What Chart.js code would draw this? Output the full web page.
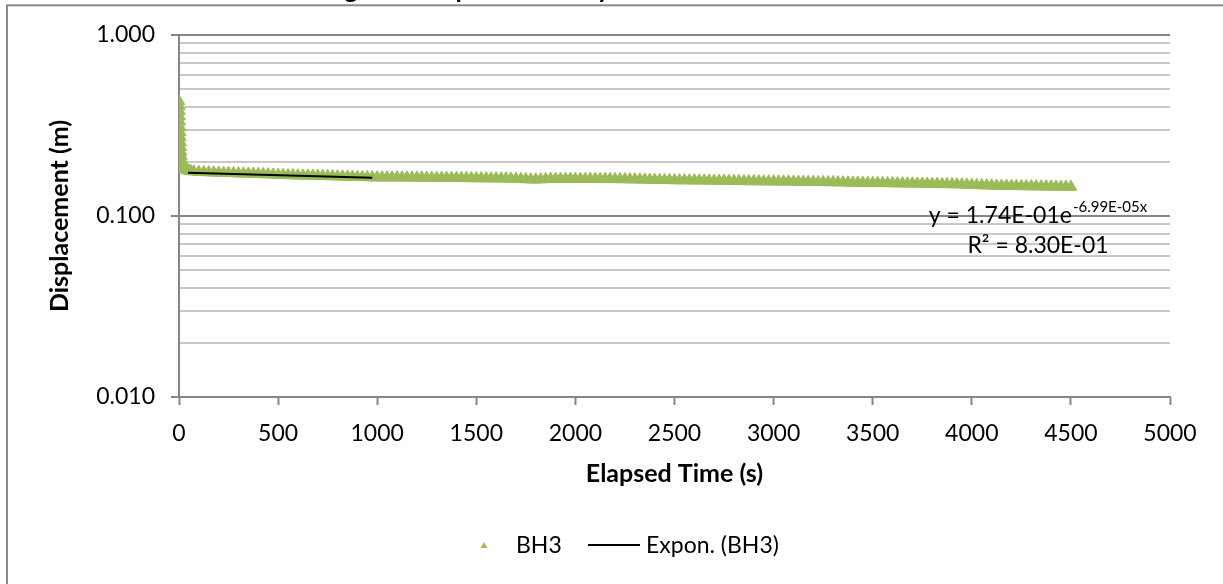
<!DOCTYPE html>
<html>
<head>
<meta charset="utf-8">
<title>BH3 displacement</title>
<script src="https://cdn.jsdelivr.net/npm/chart.js@4.4.1/dist/chart.umd.min.js"></script>
<style>
  html, body { margin: 0; padding: 0; background: #ffffff; }
  canvas { display: block; }
</style>
</head>
<body>
<canvas id="chart" width="1223" height="584"></canvas>
<script>
// BH3 logger record: elapsed time (s) and displacement (m)
const elapsedTime = [
  0, 1, 2, 3, 4, 5, 6, 7, 8, 9, 10, 12, 14, 16, 18, 20, 25, 30, 40, 50, 60, 75,
  100, 125, 150, 175, 200, 225, 250, 275, 300, 325, 350, 375, 400, 425, 450, 475,
  500, 525, 550, 575, 600, 625, 650, 675, 700, 725, 750, 775, 800, 825, 850, 875,
  900, 925, 950, 975, 1000, 1025, 1050, 1075, 1100, 1125, 1150, 1175, 1200, 1225, 1250, 1275,
  1300, 1325, 1350, 1375, 1400, 1425, 1450, 1475, 1500, 1525, 1550, 1575, 1600, 1625, 1650, 1675,
  1700, 1725, 1750, 1775, 1800, 1825, 1850, 1875, 1900, 1925, 1950, 1975, 2000, 2025, 2050, 2075,
  2100, 2125, 2150, 2175, 2200, 2225, 2250, 2275, 2300, 2325, 2350, 2375, 2400, 2425, 2450, 2475,
  2500, 2525, 2550, 2575, 2600, 2625, 2650, 2675, 2700, 2725, 2750, 2775, 2800, 2825, 2850, 2875,
  2900, 2925, 2950, 2975, 3000, 3025, 3050, 3075, 3100, 3125, 3150, 3175, 3200, 3225, 3250, 3275,
  3300, 3325, 3350, 3375, 3400, 3425, 3450, 3475, 3500, 3525, 3550, 3575, 3600, 3625, 3650, 3675,
  3700, 3725, 3750, 3775, 3800, 3825, 3850, 3875, 3900, 3925, 3950, 3975, 4000, 4025, 4050, 4075,
  4100, 4125, 4150, 4175, 4200, 4225, 4250, 4275, 4300, 4325, 4350, 4375, 4400, 4425, 4450, 4475,
  4500
];
const displacement = [
  0.430, 0.405, 0.380, 0.355, 0.332, 0.310, 0.290, 0.272, 0.255, 0.240, 0.226, 0.214, 0.204, 0.197, 0.192, 0.188, 0.184, 0.181, 0.179, 0.178, 0.177, 0.176,
  0.1750, 0.1746, 0.1741, 0.1738, 0.1733, 0.1729, 0.1727, 0.1722, 0.1718, 0.1715, 0.1712, 0.1710, 0.1706, 0.1702, 0.1697, 0.1692,
  0.1686, 0.1684, 0.1680, 0.1677, 0.1674, 0.1671, 0.1669, 0.1667, 0.1664, 0.1661, 0.1659, 0.1656, 0.1653, 0.1650, 0.1648, 0.1646,
  0.1643, 0.1640, 0.1637, 0.1634, 0.1632, 0.1632, 0.1631, 0.1630, 0.1632, 0.1631, 0.1629, 0.1628, 0.1628, 0.1627, 0.1625, 0.1623,
  0.1622, 0.1621, 0.1622, 0.1620, 0.1622, 0.1619, 0.1617, 0.1616, 0.1616, 0.1615, 0.1613, 0.1612, 0.1612, 0.1610, 0.1609, 0.1607,
  0.1606, 0.1600, 0.1594, 0.1590, 0.1589, 0.1592, 0.1597, 0.1600, 0.1601, 0.1602, 0.1601, 0.1603, 0.1601, 0.1602, 0.1600, 0.1601,
  0.1601, 0.1599, 0.1598, 0.1599, 0.1597, 0.1596, 0.1595, 0.1593, 0.1591, 0.1590, 0.1588, 0.1584, 0.1581, 0.1579, 0.1578, 0.1577,
  0.1575, 0.1574, 0.1573, 0.1572, 0.1571, 0.1570, 0.1569, 0.1568, 0.1567, 0.1565, 0.1564, 0.1562, 0.1561, 0.1559, 0.1557, 0.1556,
  0.1555, 0.1553, 0.1552, 0.1551, 0.1551, 0.1550, 0.1548, 0.1549, 0.1547, 0.1545, 0.1543, 0.1542, 0.1541, 0.1539, 0.1538, 0.1536,
  0.1535, 0.1533, 0.1531, 0.1529, 0.1527, 0.1526, 0.1524, 0.1523, 0.1522, 0.1520, 0.1518, 0.1517, 0.1516, 0.1514, 0.1512, 0.1511,
  0.1510, 0.1508, 0.1506, 0.1505, 0.1503, 0.1501, 0.1499, 0.1498, 0.1497, 0.1495, 0.1492, 0.1488, 0.1484, 0.1480, 0.1477, 0.1475,
  0.1472, 0.1469, 0.1467, 0.1466, 0.1464, 0.1462, 0.1461, 0.1459, 0.1458, 0.1457, 0.1455, 0.1454, 0.1453, 0.1451, 0.1450, 0.1449,
  0.1448
];

// Exponential trendline y = a * e^(b x), fitted over the early part of the record
const trendA = 0.174;
const trendB = -6.99e-5;
const trendRSquared = 0.830;
const trendSpan = [45, 975];

// Axis ticks
const xTickStep = 500;
const yTickValues = [
  0.01, 0.02, 0.03, 0.04, 0.05, 0.06, 0.07, 0.08, 0.09,
  0.1, 0.2, 0.3, 0.4, 0.5, 0.6, 0.7, 0.8, 0.9,
  1
];
const yLabelledTicks = [0.01, 0.1, 1];

const seriesNames = ['BH3', 'Expon. (BH3)'];
const chartTitle = 'Slug Test Displacement by Time';

const FONT = 'Lato';
const GREEN = '#9BBB59';
const AXIS_GREY = '#868686';
const MINOR_GREY = '#c8c8c8';

function isDecade(v) {
  const l = Math.log10(v);
  return Math.abs(l - Math.round(l)) < 1e-9;
}

// Spreadsheet style scientific notation, e.g. 1.74E-01
function sciEq(v) {
  const [m, e] = v.toExponential(2).split('e');
  const n = parseInt(e, 10);
  return m + 'E' + (n < 0 ? '-' : '') + String(Math.abs(n)).padStart(2, '0');
}

// Outer frame, clipped title and white backdrop
const framePlugin = {
  id: 'frame',
  beforeDraw(chart) {
    const ctx = chart.ctx;
    ctx.save();
    ctx.fillStyle = '#ffffff';
    ctx.fillRect(0, 0, chart.width, chart.height);
    ctx.strokeStyle = '#8a8a8a';
    ctx.lineWidth = 2;
    ctx.strokeRect(7, 5.3, 1400, 800);
    ctx.restore();
  },
  afterDraw(chart) {
    const ctx = chart.ctx;
    ctx.save();
    ctx.font = 'bold 26px ' + FONT;
    ctx.fillStyle = '#000000';
    ctx.textBaseline = 'alphabetic';
    const gIdx = chartTitle.indexOf('g');
    const pre = ctx.measureText(chartTitle.slice(0, gIdx)).width;
    const gw = ctx.measureText('g').width;
    ctx.fillText(chartTitle, 351 - pre - gw / 2, -2);
    ctx.restore();
  }
};

// Trendline equation and R² label
const equationPlugin = {
  id: 'equation',
  afterDatasetsDraw(chart) {
    const ctx = chart.ctx;
    const main = 'y = ' + sciEq(trendA) + 'e';
    const sup = sciEq(trendB) + 'x';
    const r2 = 'R² = ' + sciEq(trendRSquared);
    const cx = 1038;
    ctx.save();
    ctx.fillStyle = '#000000';
    ctx.textBaseline = 'alphabetic';
    ctx.font = '23px ' + FONT;
    const wm = ctx.measureText(main).width;
    ctx.font = '15px ' + FONT;
    const ws = ctx.measureText(sup).width;
    const x0 = cx - (wm + ws + 1) / 2;
    ctx.font = '23px ' + FONT;
    ctx.textAlign = 'left';
    ctx.fillText(main, x0, 223);
    ctx.font = '15px ' + FONT;
    ctx.fillText(sup, x0 + wm + 1, 212);
    ctx.font = '23px ' + FONT;
    ctx.textAlign = 'center';
    ctx.fillText(r2, cx, 253);
    ctx.restore();
  }
};

// Legend row under the axis title
const legendPlugin = {
  id: 'legendRow',
  afterDraw(chart) {
    const ctx = chart.ctx;
    const cy = 545.5;
    ctx.save();
    ctx.fillStyle = GREEN;
    ctx.beginPath();
    ctx.moveTo(484, cy - 3.5);
    ctx.lineTo(487.5, cy + 2.5);
    ctx.lineTo(480.5, cy + 2.5);
    ctx.closePath();
    ctx.fill();
    ctx.fillStyle = '#000000';
    ctx.font = '23px ' + FONT;
    ctx.textBaseline = 'alphabetic';
    ctx.fillText(seriesNames[0], 516, 553);
    ctx.strokeStyle = '#000000';
    ctx.lineWidth = 2;
    ctx.beginPath();
    ctx.moveTo(588, 545);
    ctx.lineTo(640, 545);
    ctx.stroke();
    ctx.fillText(seriesNames[1], 646, 553);
    ctx.restore();
  }
};

const bh3Points = elapsedTime.map((t, i) => ({ x: t, y: displacement[i] }));
const trendPoints = trendSpan.map(t => ({ x: t, y: trendA * Math.exp(trendB * t) }));

new Chart(document.getElementById('chart'), {
  type: 'scatter',
  data: {
    datasets: [
      {
        label: seriesNames[1],
        type: 'line',
        data: trendPoints,
        borderColor: '#000000',
        borderWidth: 2,
        pointRadius: 0,
        fill: false,
        tension: 0,
        order: 0
      },
      {
        label: seriesNames[0],
        data: bh3Points,
        showLine: false,
        pointStyle: 'triangle',
        pointRadius: 6.8,
        backgroundColor: GREEN,
        borderColor: GREEN,
        borderWidth: 1,
        order: 1
      }
    ]
  },
  options: {
    responsive: false,
    animation: false,
    devicePixelRatio: 1,
    layout: { padding: { left: 45, right: 53, top: 35, bottom: 95.5 } },
    plugins: {
      legend: { display: false },
      title: { display: false },
      tooltip: { enabled: false }
    },
    scales: {
      x: {
        type: 'linear',
        position: 'bottom',
        min: 0,
        max: 5000,
        ticks: {
          stepSize: xTickStep,
          autoSkip: false,
          maxRotation: 0,
          color: '#000000',
          padding: 15,
          font: { family: FONT, size: 23 },
          callback: (v) => String(v)
        },
        grid: {
          drawOnChartArea: false,
          drawTicks: true,
          tickLength: 8,
          tickColor: AXIS_GREY,
          tickWidth: 2
        },
        border: { color: AXIS_GREY, width: 2 },
        title: {
          display: true,
          text: 'Elapsed Time (s)',
          color: '#000000',
          padding: 0,
          font: { family: FONT, size: 25, weight: 'bold' }
        },
        afterFit(scale) { scale.height = 91.5; }
      },
      y: {
        type: 'logarithmic',
        position: 'left',
        min: 0.01,
        max: 1,
        afterBuildTicks(scale) {
          scale.ticks = yTickValues.map(v => ({ value: v }));
        },
        ticks: {
          autoSkip: false,
          color: '#000000',
          padding: 16,
          font: { family: FONT, size: 23 },
          callback: (v) => (yLabelledTicks.includes(v) ? v.toFixed(3) : '')
        },
        grid: {
          color: (c) => (c.tick && isDecade(c.tick.value) ? AXIS_GREY : MINOR_GREY),
          lineWidth: 2,
          drawTicks: true,
          tickLength: 8,
          tickWidth: 2,
          tickColor: (c) => (c.tick && isDecade(c.tick.value) ? AXIS_GREY : 'rgba(0,0,0,0)')
        },
        border: { color: AXIS_GREY, width: 2 },
        title: {
          display: true,
          text: 'Displacement (m)',
          color: '#000000',
          padding: 0,
          font: { family: FONT, size: 25, weight: 'bold' }
        },
        afterFit(scale) { scale.width = 134; }
      }
    }
  },
  plugins: [framePlugin, equationPlugin, legendPlugin]
});
</script>
</body>
</html>
